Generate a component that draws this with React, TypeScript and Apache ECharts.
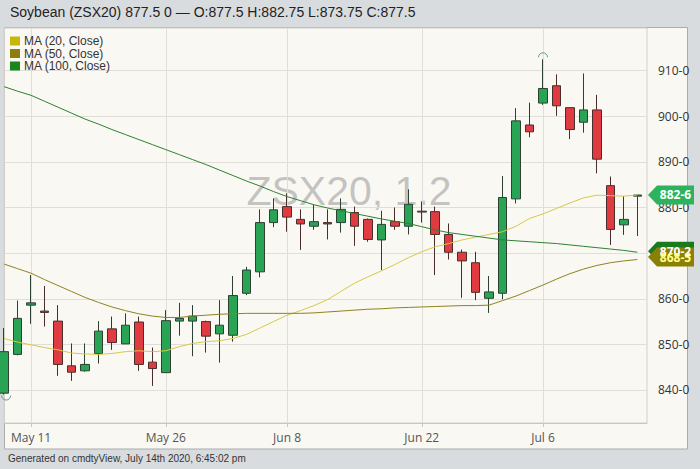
import React, { useEffect, useRef } from "react";
import * as echarts from "echarts";

const dates = [
  "May 7", "May 8", "May 11", "May 12", "May 13", "May 14", "May 15",
  "May 18", "May 19", "May 20", "May 21", "May 22",
  "May 26", "May 27", "May 28", "May 29",
  "Jun 1", "Jun 2", "Jun 3", "Jun 4", "Jun 5",
  "Jun 8", "Jun 9", "Jun 10", "Jun 11", "Jun 12",
  "Jun 15", "Jun 16", "Jun 17", "Jun 18", "Jun 19",
  "Jun 22", "Jun 23", "Jun 24", "Jun 25", "Jun 26",
  "Jun 29", "Jun 30", "Jul 1", "Jul 2",
  "Jul 6", "Jul 7", "Jul 8", "Jul 9", "Jul 10",
  "Jul 13", "Jul 14", "Jul 15",
];

const opens = [
  839.3, 847.8, 858.6, 857.3, 855.1, 845.3, 844.2, 848.0, 853.4, 850.1, 854.9, 846.1,
  843.8, 855.1, 855.1, 855.0, 852.3, 852.0, 861.2, 865.9, 876.7, 880.2, 877.4, 875.9,
  876.7, 876.7, 878.9, 877.4, 872.9, 876.9, 875.9, 879.2, 879.1, 874.1, 870.2, 867.9,
  860.1, 861.2, 881.9, 898.1, 902.9, 906.7, 901.9, 898.7, 901.4, 884.8, 876.2, 882.5,
];
const closes = [
  848.4, 855.7, 859.1, 857.0, 845.6, 843.9, 845.6, 852.9, 850.4, 854.2, 845.6, 844.7,
  855.2, 855.7, 856.2, 851.8, 854.2, 860.7, 866.3, 876.7, 879.5, 877.9, 876.4, 876.9,
  876.4, 879.6, 875.9, 873.0, 876.3, 875.9, 880.7, 879.0, 874.1, 870.2, 868.3, 861.4,
  861.5, 882.2, 899.0, 896.6, 906.1, 902.3, 897.1, 901.4, 890.6, 875.2, 877.4, 882.75,
];
const lows = [
  839.0, 847.6, 854.5, 853.9, 843.1, 842.0, 844.0, 845.8, 848.8, 850.1, 844.2, 840.9,
  843.8, 851.9, 847.4, 848.2, 846.0, 850.6, 860.8, 864.7, 875.7, 874.7, 870.7, 875.1,
  873.0, 874.5, 871.6, 872.5, 866.3, 875.1, 874.1, 876.7, 865.2, 868.6, 860.2, 859.7,
  856.9, 859.9, 880.9, 895.4, 902.5, 900.1, 895.0, 896.4, 887.5, 871.8, 874.0, 873.75,
];
const highs = [
  853.6, 859.6, 865.2, 862.8, 858.6, 850.2, 850.2, 855.1, 856.1, 856.8, 856.1, 849.3,
  857.5, 859.1, 858.6, 855.2, 859.7, 865.0, 867.0, 879.6, 882.0, 883.1, 879.6, 880.6,
  879.6, 882.0, 880.2, 877.6, 879.3, 880.0, 884.0, 881.3, 880.2, 876.5, 870.8, 870.3,
  865.0, 886.9, 901.8, 903.0, 912.5, 909.2, 902.0, 909.4, 904.7, 886.8, 882.5, 882.75,
];

const ma20 = [
  851.3, 850.5, 849.9, 849.3, 848.8, 848.1, 847.9, 847.8, 848.0, 848.4, 848.6, 848.4,
  848.6, 849.5, 850.2, 850.6, 850.8, 851.3, 852.2, 853.6, 855.0, 856.4, 857.4, 858.5,
  859.8, 861.6, 863.4, 864.8, 866.1, 867.5, 869.0, 870.3, 871.4, 872.1, 872.9, 873.5,
  874.1, 874.7, 875.9, 877.6, 878.6, 879.8, 881.0, 882.1, 882.7, 882.6, 882.5, 882.75,
];
const ma50 = [
  867.6, 866.6, 865.6, 864.2, 862.9, 861.6, 860.3, 859.2, 858.2, 857.4, 856.7, 856.2,
  855.9, 855.9, 856.2, 856.4, 856.6, 856.7, 856.8, 856.8, 856.8, 856.8, 856.8, 856.9,
  857.1, 857.3, 857.5, 857.7, 857.8, 858.0, 858.1, 858.2, 858.3, 858.4, 858.5, 858.5,
  858.6, 859.6, 860.6, 861.8, 863.0, 864.3, 865.5, 866.5, 867.3, 867.9, 868.3, 868.6,
];
const ma100 = [
  906.5, 905.5, 904.6, 903.3, 902.0, 900.7, 899.4, 898.3, 897.1, 896.0, 894.9, 893.8,
  892.7, 891.6, 890.5, 889.4, 888.2, 887.0, 885.8, 884.7, 883.5, 882.4, 881.5, 880.6,
  879.9, 879.3, 878.7, 878.1, 877.5, 877.0, 876.5, 875.8, 875.1, 874.5, 874.1, 873.7,
  873.3, 872.9, 872.7, 872.5, 872.3, 872.1, 871.8, 871.5, 871.2, 870.9, 870.6, 870.2,
];

const yTicks = [840, 850, 860, 870, 880, 890, 900, 910];
const xLabelIdx = [2, 12, 21, 31, 40];
const legendNames = ["MA (20, Close)", "MA (50, Close)", "MA (100, Close)"];
const titleText = "Soybean (ZSX20) 877.5 0 \u2014 O:877.5 H:882.75 L:873.75 C:877.5";
const footerText = "Generated on cmdtyView, July 14th 2020, 6:45:02 pm";
const watermarkText = "ZSX20, 1.2";
const lastPrice = 882.75;

const X_MIN = -0.01;
const X_MAX = 47.72;
const Y_MIN = 832.76;
const Y_MAX = 919.36;

function fmt(v: number): string {
  const i = Math.floor(v + 1e-9);
  const e = Math.round((v - i) * 8);
  return `${i}-${e}`;
}

export default function App() {
  const ref = useRef<HTMLDivElement>(null);
  useEffect(() => {
    if (!ref.current) return;
    const chart = echarts.init(ref.current, null, { renderer: "svg" });
    const candleData = dates.map((_, i) => [i, opens[i], closes[i], lows[i], highs[i]]);
    const lineData = (arr: number[]) => arr.map((v, i) => [i, v]);
    const sans = '"Liberation Sans", Arial, sans-serif';
    const staticGraphics: any[] = [
      {
        id: "frame",
        type: "rect",
        z: -10,
        shape: { x: 4.5, y: 27.5, width: 683, height: 421.5 },
        style: { fill: "#faf8f3", stroke: "#a9abad", lineWidth: 1 },
      },
      {
        id: "wm",
        type: "text",
        z: -5,
        x: 349,
        y: 191,
        style: {
          text: watermarkText,
          fill: "rgba(150,150,150,0.55)",
          font: `41px ${sans}`,
          align: "center",
          verticalAlign: "middle",
          textAlign: "center",
          textVerticalAlign: "middle",
        },
      },
      {
        id: "footer",
        type: "text",
        x: 8,
        y: 458,
        style: {
          text: footerText,
          fill: "#333",
          font: `10px ${sans}`,
          verticalAlign: "middle",
          textVerticalAlign: "middle",
        },
      },
    ];
    const option: any = {
      animation: false,
      backgroundColor: "#d9dcdf",
      title: {
        text: titleText,
        left: 10,
        top: 5,
        padding: 0,
        textStyle: { fontSize: 14, fontWeight: "normal", color: "#222", fontFamily: sans },
      },
      legend: {
        orient: "vertical",
        left: 10,
        top: 35,
        padding: 0,
        icon: "rect",
        itemWidth: 10,
        itemHeight: 9,
        itemGap: 0.5,
        data: legendNames,
        textStyle: { fontSize: 12, color: "#333", fontFamily: sans, lineHeight: 12, padding: [0, 0, 0, -1] },
      },
      grid: {
        left: 4,
        right: 53,
        top: 28,
        bottom: 46,
        show: true,
        backgroundColor: "transparent",
        borderColor: "#d2d0ca",
        borderWidth: 1,
      },
      xAxis: {
        type: "value",
        min: X_MIN,
        max: X_MAX,
        axisLine: { show: true, lineStyle: { color: "#c9c7c1" } },
        axisTick: { show: true, customValues: xLabelIdx, length: 4, lineStyle: { color: "#c9c7c1" } },
        axisLabel: {
          customValues: xLabelIdx,
          formatter: (v: number) => dates[Math.round(v)],
          color: "#555",
          fontSize: 12,
          fontFamily: '"Open Sans", sans-serif',
          margin: 8,
        },
        splitLine: { show: true, lineStyle: { color: "#e0ded8" } },
      },
      yAxis: {
        type: "value",
        position: "right",
        min: Y_MIN,
        max: Y_MAX,
        axisLine: { show: true, lineStyle: { color: "#d2d0ca" } },
        axisTick: { show: false, customValues: yTicks },
        axisLabel: {
          customValues: yTicks,
          formatter: fmt,
          color: "#333",
          fontSize: 12,
          fontFamily: '"Open Sans", sans-serif',
          margin: 11,
        },
        splitLine: { show: true, lineStyle: { color: "#e0ded8" } },
      },
      graphic: { elements: staticGraphics },
      series: [
        {
          type: "candlestick",
          name: "ZSX20",
          data: candleData,
          encode: { x: 0, y: [1, 2, 3, 4] },
          barWidth: 9,
          clip: true,
          itemStyle: {
            color: "#29a354",
            color0: "#e03b40",
            borderColor: "#2d4034",
            borderColor0: "#4a2e2e",
            borderWidth: 1,
          },
        },
        {
          type: "line",
          name: legendNames[0],
          data: lineData(ma20),
          showSymbol: false,
          symbol: "none",
          itemStyle: { color: "#c9b60c" },
          lineStyle: { color: "#d6c84a", width: 1 },
        },
        {
          type: "line",
          name: legendNames[1],
          data: lineData(ma50),
          showSymbol: false,
          symbol: "none",
          itemStyle: { color: "#8c7e0c" },
          lineStyle: { color: "#8e8220", width: 1 },
        },
        {
          type: "line",
          name: legendNames[2],
          data: lineData(ma100),
          showSymbol: false,
          symbol: "none",
          itemStyle: { color: "#19861c" },
          lineStyle: { color: "#2e8030", width: 1 },
        },
      ],
    };
    chart.setOption(option);

    const xr = chart.convertToPixel({ xAxisIndex: 0 }, X_MAX) as number;
    const tag = (id: string, value: number, fill: string, textColor: string, shift: number) => {
      const y = (chart.convertToPixel({ yAxisIndex: 0 }, value) as number) + shift;
      const x0 = xr + 1;
      return [
        {
          id: id + "-p",
          type: "polygon",
          z: 20,
          shape: {
            points: [
              [x0, y],
              [x0 + 9, y - 9.5],
              [x0 + 46, y - 9.5],
              [x0 + 46, y + 9.5],
              [x0 + 9, y + 9.5],
            ],
          },
          style: { fill },
        },
        {
          id: id + "-t",
          type: "text",
          z: 21,
          x: x0 + 27.5,
          y: y,
          style: {
            text: fmt(value),
            fill: textColor,
            font: 'bold 12px "Open Sans", sans-serif',
            align: "center",
            verticalAlign: "middle",
            textAlign: "center",
            textVerticalAlign: "middle",
          },
        },
      ];
    };
    const hi = chart.convertToPixel({ xAxisIndex: 0, yAxisIndex: 0 }, [40, highs[40]]) as number[];
    const lo = chart.convertToPixel({ xAxisIndex: 0, yAxisIndex: 0 }, [0, lows[0]]) as number[];
    const dynamic: any[] = [
      ...tag("ma100", ma100[ma100.length - 1], "#1b7a1e", "#ffffff", -1),
      ...tag("ma50", ma50[ma50.length - 1], "#8a8005", "#ffff8a", -2.5),
      ...tag("last", lastPrice, "#2db35d", "#ffffff", 0),
      {
        id: "hiMark",
        type: "arc",
        z: 15,
        shape: { cx: hi[0], cy: hi[1] - 2, r: 4.5, startAngle: Math.PI, endAngle: Math.PI * 2 },
        style: { stroke: "#5f9c84", fill: "none", lineWidth: 1 },
      },
      {
        id: "loMark",
        type: "arc",
        z: 15,
        shape: { cx: lo[0] + 2, cy: lo[1] + 1, r: 4.5, startAngle: 0, endAngle: Math.PI },
        style: { stroke: "#5f9c84", fill: "none", lineWidth: 1 },
      },
    ];
    chart.setOption({ graphic: { elements: [...staticGraphics, ...dynamic] } });

    return () => chart.dispose();
  }, []);
  return (
    <div
      ref={ref}
      style={{ position: "fixed", left: 0, top: 0, width: 700, height: 469 }}
    />
  );
}
